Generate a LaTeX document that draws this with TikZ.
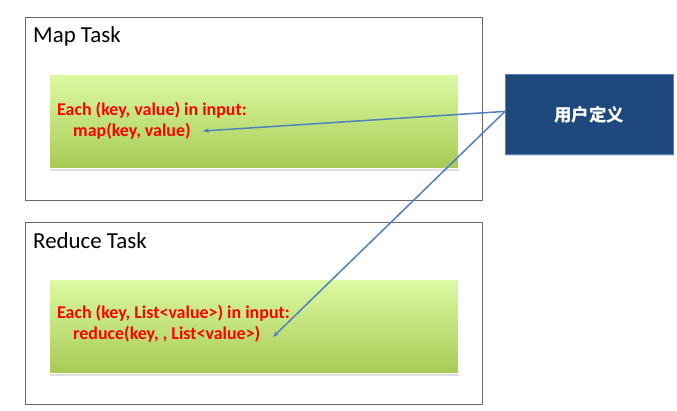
\documentclass[tikz,border=0pt]{standalone}
\usepackage{fontspec}
\setmainfont{Carlito}
\newfontfamily\cjk{Noto Sans CJK SC}
\usepackage{xcolor}
\usepackage{tikz}
\usetikzlibrary{arrows.meta,positioning,shadows}

\definecolor{framegray}{RGB}{105,105,105}
\definecolor{greentop}{RGB}{220,250,162}
\definecolor{greenbot}{RGB}{166,202,84}
\definecolor{userblue}{RGB}{31,72,124}
\definecolor{linkblue}{RGB}{79,129,189}

\tikzset{
  taskbox/.style={draw=framegray, line width=1.3bp, fill=white, anchor=north west, inner sep=0pt},
  tasktitle/.style={anchor=west, inner sep=0pt, font=\fontsize{23}{27}\selectfont},
  codebox/.style={draw=white, line width=1.2bp, top color=greentop, bottom color=greenbot,
    anchor=north west, inner sep=0pt, minimum width=409bp, minimum height=94bp,
    drop shadow={shadow xshift=0.5bp, shadow yshift=-2bp, opacity=0.25}},
  codetext/.style={anchor=west, align=left, text=red, inner sep=0pt,
    font=\bfseries\fontsize{18}{21}\selectfont},
  userbox/.style={draw=linkblue, line width=0.8bp, fill=userblue, text=white, anchor=north west,
    minimum width=168bp, minimum height=80bp, inner sep=0pt,
    font=\cjk\bfseries\fontsize{17.5}{21}\selectfont,
    drop shadow={shadow xshift=1bp, shadow yshift=-1.5bp, opacity=0.25}},
  userlink/.style={draw=linkblue, line width=1.5bp, -{Stealth[length=6bp,width=4.5bp]}}
}

\begin{document}
\begin{tikzpicture}[x=1bp, y=-1bp]
    % Canvas
    \fill[white] (0,0) rectangle (677,410);
    \useasboundingbox (0,0) rectangle (677,410);

    % Map task frame
    \node[taskbox, minimum width=457bp, minimum height=183bp] (mapbox) at (25,17) {};
    \node[tasktitle] (maptitle) at (33,36) {Map Task};
    \node[codebox] (mapcode) at (49,74) {};
    \node[codetext] (maptext) at (57,121) {Each (key, value) in input:\\\hspace*{16bp}map(key, value)};
    \coordinate (maptip) at (203,131);

    % Reduce task frame
    \node[taskbox, minimum width=457bp, minimum height=182bp] (reducebox) at (25,222) {};
    \node[tasktitle] (reducetitle) at (33,241) {Reduce Task};
    \node[codebox] (reducecode) at (49,279) {};
    \node[codetext] (reducetext) at (57,324) {Each (key, List<value>) in input:\\\hspace*{16bp}reduce(key, , List<value>)};
    \coordinate (reducetip) at (273,337);

    % User-defined functions
    \node[userbox] (user) at (505,74) {用户定义};

    % Links to the two calls
    \draw[userlink] ([yshift=3bp]user.west) -- (maptip);
    \draw[userlink] ([yshift=3bp]user.west) -- (reducetip);
\end{tikzpicture}
\end{document}
